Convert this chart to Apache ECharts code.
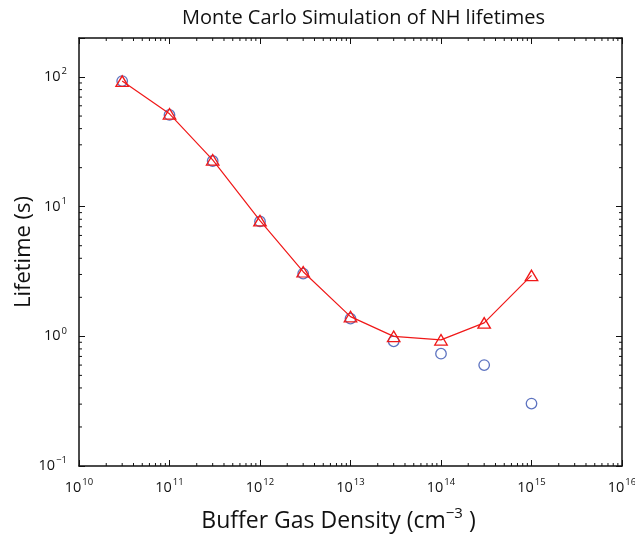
<!DOCTYPE html>
<html><head><meta charset="utf-8">
<script src="https://cdn.jsdelivr.net/npm/echarts@6/dist/echarts.min.js"></script>
<style>html,body{margin:0;padding:0;background:#fff}#c{width:635px;height:534px}</style>
</head><body><div id="c"></div>
<script>
// Data
const density = [3e10, 1e11, 3e11, 1e12, 3e12, 1e13, 3e13, 1e14, 3e14, 1e15];
const lifetimeCircle = [93, 51, 22.5, 7.7, 3.05, 1.37, 0.915, 0.735, 0.6, 0.303];
const lifetimeTriangle = [93, 52, 23, 7.8, 3.15, 1.42, 1.0, 0.94, 1.27, 2.95];
const xMinorTicks = [];
for (let k = 10; k < 16; k++) for (let m = 2; m <= 9; m++) xMinorTicks.push(m * Math.pow(10, k));
const yMinorTicks = [];
for (let k = -1; k < 2; k++) for (let m = 2; m <= 9; m++) yMinorTicks.push(m * Math.pow(10, k));

const FONT = 'Open Sans';
function powLabel(v) {
  const l = Math.log10(v);
  const e = Math.round(l);
  if (Math.abs(l - e) > 1e-6) return '';
  return '{b|10}{s|' + String(e).replace('-', '\u2212') + '}';
}
const richLab = {
  b: { fontSize: 14.5, fontFamily: FONT, color: '#111' },
  s: { fontSize: 9.5, fontFamily: FONT, color: '#111', padding: [0, 0, 11, 1] }
};
const axisLine = { show: true, lineStyle: { color: '#111', width: 1.5 } };
const majorTick = { show: true, inside: true, length: 6, lineStyle: { color: '#111', width: 1 } };

const chart = echarts.init(document.getElementById('c'), null, { renderer: 'canvas' });
chart.setOption({
  animation: false,
  backgroundColor: '#fff',
  title: {
    text: 'Monte Carlo Simulation of NH lifetimes',
    left: 177, top: 3,
    textStyle: { fontFamily: FONT, fontSize: 20, fontWeight: 'normal', color: '#111' }
  },
  grid: { left: 79, right: 13, top: 38, bottom: 68, outerBoundsMode: 'none', containLabel: false },
  xAxis: [{
    type: 'log', min: 1e10, max: 1e16, position: 'bottom',
    axisLine, axisTick: majorTick, splitLine: { show: false },
    axisLabel: { formatter: powLabel, rich: richLab, margin: 11 },
    name: '{t|Buffer Gas Density (cm}{s|\u22123}{t| )}',
    nameLocation: 'middle', nameGap: 40,
    nameTextStyle: {
      padding: [0, 24, 0, 0],
      rich: {
        t: { fontSize: 23, fontFamily: FONT, color: '#111' },
        s: { fontSize: 15, fontFamily: FONT, color: '#111', padding: [0, 0, 15, 0] }
      }
    }
  }, {
    type: 'log', min: 1e10, max: 1e16, position: 'top',
    axisLine, axisTick: majorTick, splitLine: { show: false },
    axisLabel: { show: false }
  }],
  yAxis: [{
    type: 'log', min: 0.1, max: 200, position: 'left',
    axisLine, axisTick: majorTick, splitLine: { show: false },
    axisLabel: { formatter: powLabel, rich: richLab, margin: 12 },
    name: 'Lifetime (s)', nameLocation: 'middle', nameGap: 44, nameRotate: 90,
    nameMoveOverlap: false,
    nameTextStyle: { fontSize: 22, fontFamily: FONT, color: '#111' }
  }, {
    type: 'log', min: 0.1, max: 200, position: 'right',
    axisLine, axisTick: majorTick, splitLine: { show: false },
    axisLabel: { show: false }
  }],
  series: [
    {
      type: 'custom', silent: true, xAxisIndex: 0, yAxisIndex: 0,
      data: xMinorTicks.map(v => [v, 1]),
      renderItem(params, api) {
        const cs = params.coordSys;
        const x = api.coord([api.value(0), 1])[0];
        const st = { stroke: '#111', lineWidth: 1 };
        return { type: 'group', children: [
          { type: 'line', shape: { x1: x, y1: cs.y + cs.height, x2: x, y2: cs.y + cs.height - 3 }, style: st },
          { type: 'line', shape: { x1: x, y1: cs.y, x2: x, y2: cs.y + 3 }, style: st }
        ] };
      }
    },
    {
      type: 'custom', silent: true, xAxisIndex: 0, yAxisIndex: 0,
      data: yMinorTicks.map(v => [1e12, v]),
      renderItem(params, api) {
        const cs = params.coordSys;
        const y = api.coord([1e12, api.value(1)])[1];
        const st = { stroke: '#111', lineWidth: 1 };
        return { type: 'group', children: [
          { type: 'line', shape: { x1: cs.x, y1: y, x2: cs.x + 3, y2: y }, style: st },
          { type: 'line', shape: { x1: cs.x + cs.width, y1: y, x2: cs.x + cs.width - 3, y2: y }, style: st }
        ] };
      }
    },
    {
      name: 'circles', type: 'scatter',
      data: density.map((d, i) => [d, lifetimeCircle[i]]),
      symbol: 'circle', symbolSize: 10.5,
      itemStyle: { color: 'rgba(0,0,0,0)', borderColor: '#3550b0', borderWidth: 1.3 }
    },
    {
      name: 'triangles', type: 'line',
      data: density.map((d, i) => [d, lifetimeTriangle[i]]),
      symbol: 'triangle', symbolSize: [12.5, 10.5], showAllSymbol: true,
      lineStyle: { color: '#f01818', width: 1.2 },
      itemStyle: { color: 'rgba(0,0,0,0)', borderColor: '#f01818', borderWidth: 1.3 }
    }
  ]
});
</script></body></html>
